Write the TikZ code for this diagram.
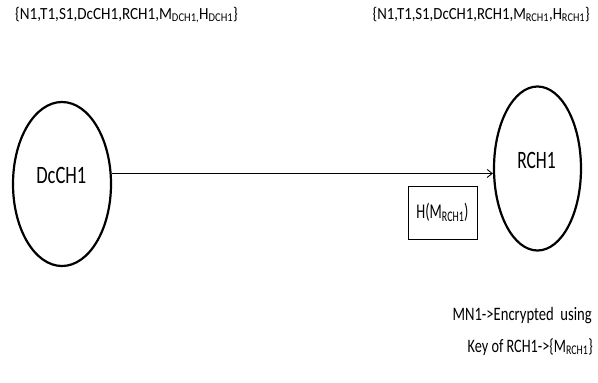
\documentclass[tikz,border=0pt]{standalone}
\usepackage{graphicx}
\usepackage{fontspec}
\setmainfont{Carlito}
\usetikzlibrary{shapes.geometric,arrows.meta}
\newcommand{\sqz}[3]{\scalebox{#1}[1]{\fontsize{#2}{#2}\selectfont #3}}
\begin{document}
\begin{tikzpicture}[x=1pt,y=-1pt,
  txt/.style={inner sep=0pt, anchor=base west},
  txtr/.style={inner sep=0pt, anchor=base east},
  lbl/.style={inner sep=0pt, anchor=base},
  oval/.style={draw, ellipse, line width=2.2pt, inner sep=0pt},
  hbox/.style={draw, rectangle, line width=0.8pt, inner sep=0pt, minimum width=69pt, minimum height=53pt}]
\useasboundingbox (0,0) rectangle (598,383);
\node[txt] (tl) at (15,19) {\sqz{0.89}{17}{\{N1,T1,S1,DcCH1,RCH1,M\textsubscript{DCH1,}H\textsubscript{DCH1}\}}};
\node[txtr] (tr) at (590,19) {\sqz{0.87}{17}{\{N1,T1,S1,DcCH1,RCH1,M\textsubscript{RCH1},H\textsubscript{RCH1}\}}};
\node[oval, minimum width=98pt, minimum height=164pt] (L) at (62,184) {};
\node[oval, minimum width=87pt, minimum height=164pt] (R) at (537.5,168.5) {};
\node[lbl] (Ll) at (61.3,183.3) {\sqz{0.74}{25}{DcCH1}};
\node[lbl] (Rl) at (536.5,168) {\sqz{0.7}{25}{RCH1}};
\draw[line width=0.9pt, -{Straight Barb[length=5pt,width=8pt]}] (L.12) -- (L.12 -| R.west);
\node[hbox] (H) at (442.5,212.5) {\sqz{0.68}{21}{H(M\textsubscript{RCH1})}};
\node[txtr] (m1) at (592,320) {\sqz{0.77}{19}{MN1->Encrypted\ \ using}};
\node[txtr] (m2) at (593,352) {\sqz{0.75}{19}{Key of RCH1->\{M\textsubscript{RCH1}\}}};
\end{tikzpicture}
\end{document}
